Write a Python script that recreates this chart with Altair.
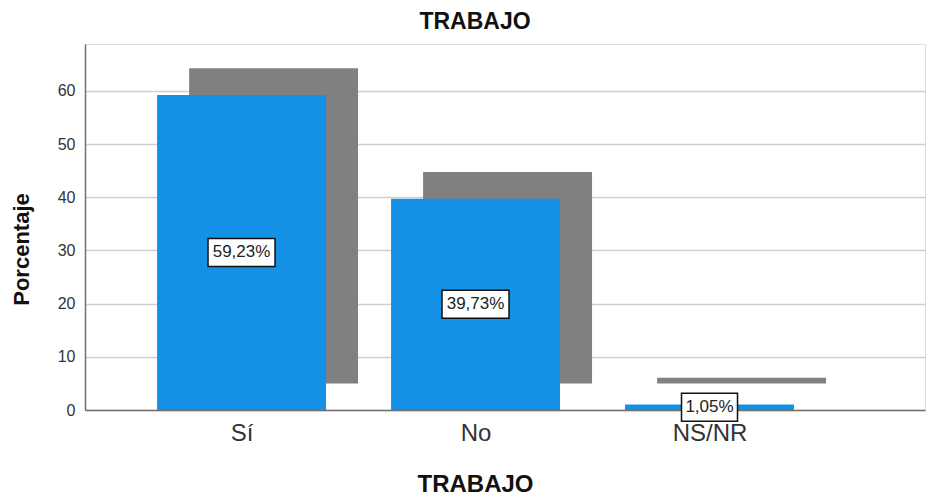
import altair as alt
import pandas as pd

categories = ["Sí", "No", "NS/NR"]
percentages = [59.23, 39.73, 1.05]
labels = ["59,23%", "39,73%", "1,05%"]

df = pd.DataFrame({
    "cat": categories,
    "idx": list(range(len(categories))),
    "pct": percentages,
    "label": labels,
})

FONT = "Liberation Sans"
BLUE = "#1490E4"
GRAY = "#808080"

xscale = alt.Scale(domain=[-0.669, 2.921], nice=False, zero=False)
yscale = alt.Scale(domain=[0, 68.8], nice=False)

base = alt.Chart(df).transform_calculate(
    bx1="datum.idx - 0.361",
    bx2="datum.idx + 0.361",
    sx1="datum.idx - 0.361 + 0.137",
    sx2="datum.idx + 0.361 + 0.137",
    sy1="5",
    sy2="datum.pct + 5",
    mid="datum.pct / 2",
    w="11 * length(datum.label) + 1",
).transform_calculate(
    bsize="datum.w * datum.w",
    r="28 / datum.w",
).transform_calculate(
    bshape="'M-1,-' + datum.r + 'L1,-' + datum.r + 'L1,' + datum.r + 'L-1,' + datum.r + 'Z'"
)

shadow = base.mark_rect(color=GRAY).encode(
    x=alt.X("sx1:Q", scale=xscale, axis=alt.Axis(
        values=[0, 1, 2],
        labelExpr="['Sí','No','NS/NR'][datum.value]",
        grid=False, ticks=False, domainColor="#707070", domainWidth=1.5,
        labelFont=FONT, labelFontSize=24, labelColor="#333333", labelPadding=11,
        title="TRABAJO", titleFont=FONT, titleFontSize=24, titleFontWeight="bold",
        titleColor="#111111", titleX=390, titleY=74, titleBaseline="middle",
        titleAlign="center",
    )),
    x2="sx2:Q",
    y=alt.Y("sy1:Q", scale=yscale, axis=alt.Axis(
        values=[0, 10, 20, 30, 40, 50, 60],
        grid=True, gridColor="#cfcfcf", gridWidth=1.5, ticks=False,
        domainColor="#707070", domainWidth=1.5,
        labelFont=FONT, labelFontSize=16, labelColor="#333333", labelPadding=10,
        title="Porcentaje", titleFont=FONT, titleFontSize=22, titleFontWeight="bold",
        titleColor="#111111", titleX=-64, titleY=205, titleAngle=-90,
        titleBaseline="middle", titleAlign="center",
    )),
    y2="sy2:Q",
)

bars = base.mark_rect(color=BLUE).encode(
    x=alt.X("bx1:Q", scale=xscale),
    x2="bx2:Q",
    y=alt.Y("pct:Q", scale=yscale),
    y2=alt.datum(0),
)

boxes = base.mark_point(filled=True, fill="white", stroke="#111111",
                        strokeWidth=1.5, opacity=1).encode(
    x=alt.X("idx:Q", scale=xscale),
    y=alt.Y("mid:Q", scale=yscale),
    shape=alt.Shape("bshape:N", scale=None),
    size=alt.Size("bsize:Q", scale=None),
)

texts = base.mark_text(font=FONT, fontSize=17, color="#222222",
                       baseline="middle", align="center").encode(
    x=alt.X("idx:Q", scale=xscale),
    y=alt.Y("mid:Q", scale=yscale),
    text="label:N",
)

chart = alt.layer(shadow, bars, boxes, texts).properties(
    width=840,
    height=366,
    title=alt.TitleParams("TRABAJO", font=FONT, fontSize=23, fontWeight="bold",
                          color="#111111", anchor="middle", dx=-30, offset=10),
    padding={"left": 77, "top": 36, "right": 6, "bottom": 90},
    autosize=alt.AutoSizeParams(type="none"),
).configure_view(stroke=None).configure(background="white")

chart.save("out.html", embed_options={"renderer": "svg", "actions": False})
